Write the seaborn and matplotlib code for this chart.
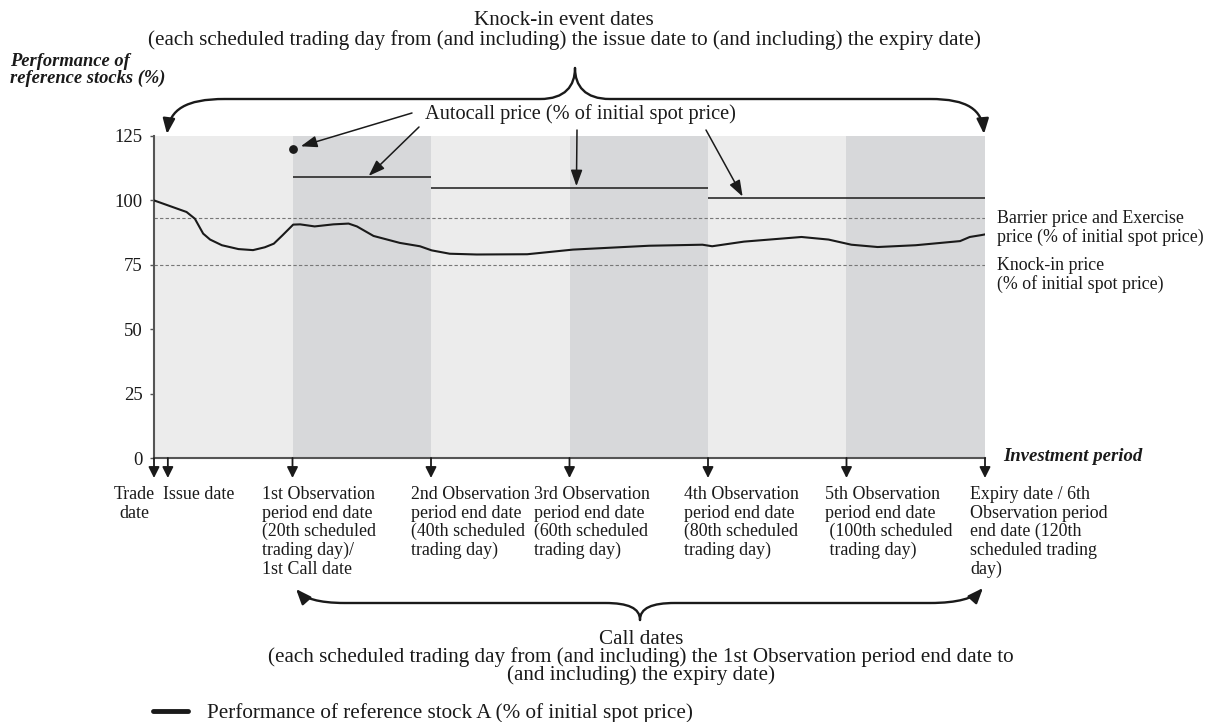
import matplotlib
matplotlib.use("Agg")
import numpy as np
import pandas as pd
import seaborn as sns
import matplotlib.pyplot as plt
from matplotlib.path import Path
from matplotlib.patches import FancyArrowPatch
from matplotlib.lines import Line2D

sns.set_theme(style="white")
plt.rcParams["font.family"] = ["Liberation Serif", "DejaVu Serif"]
plt.rcParams["text.color"] = "#1a1a1a"

# performance of reference stock A (trading day, % of spot)
days = [0, 4.7, 5.9, 7.1, 8.1, 9.8, 12.2, 14.3, 16, 17.3, 18.5, 20.1, 21.1, 23.2,
        25.9, 28.1, 29.3, 31.7, 35.5, 38.4, 40.1, 42.7, 46.6, 53.9, 60.5, 71.5,
        79.2, 80.6, 85.2, 93.5, 97.4, 100.7, 104.5, 110, 116.4, 117.8, 119.4, 120]
perf = [100, 95.5, 92.9, 87.1, 84.8, 82.6, 81.1, 80.7, 81.8, 83.2, 86.3, 90.6,
        90.7, 89.9, 90.7, 91.0, 89.9, 86.2, 83.5, 82.2, 80.6, 79.3, 79.0, 79.1,
        80.9, 82.4, 82.8, 82.2, 84.0, 85.8, 84.8, 82.8, 81.9, 82.6, 84.2, 85.8,
        86.5, 86.8]

period_ends = [20, 40, 60, 80, 100, 120]
barrier = 93
knock_in = 75

# autocall price: a dot on the 1st call date, then flat segments
autocall_dot = (20, 120)
autocall_start = [20, 40, 80]
autocall_end = [40, 80, 120]
autocall_level = [109, 105, 101]

date_days = [0, 2, 20, 40, 60, 80, 100, 120]
date_labels = [
    "Trade\ndate",
    "Issue date",
    "1st Observation\nperiod end date\n(20th scheduled\ntrading day)/\n1st Call date",
    "2nd Observation\nperiod end date\n(40th scheduled\ntrading day)",
    "3rd Observation\nperiod end date\n(60th scheduled\ntrading day)",
    "4th Observation\nperiod end date\n(80th scheduled\ntrading day)",
    "5th Observation\nperiod end date\n (100th scheduled\n trading day)",
    "Expiry date / 6th\nObservation period\nend date (120th\nscheduled trading\nday)",
]
label_dx = [-40, -5, -30, -20, -35, -24, -21, -15]

W, H = 1213, 722
INK = "#1a1a1a"
SMALL = 12.9
BIG = 15.2


def fx(x):
    return x / W


def fy(y):
    return 1 - y / H


fig = plt.figure(figsize=(W / 100, H / 100), dpi=100)
ax = fig.add_axes([fx(154), fy(458), (985 - 154) / W, (458 - 136) / H])

# shaded observation periods: light background, every second period darker
ax.axvspan(0, period_ends[-1], color="#ececec", lw=0, zorder=0)
start = 0
for i, end in enumerate(period_ends):
    if i % 2 == 1:
        ax.axvspan(start, end, color="#d7d8da", lw=0, zorder=0)
    start = end

ax.axhline(barrier, color="#777777", lw=0.8, ls=(0, (3, 2)), zorder=1)
ax.axhline(knock_in, color="#777777", lw=0.8, ls=(0, (3, 2)), zorder=1)

df = pd.DataFrame({"day": days, "perf": perf})
sns.lineplot(data=df, x="day", y="perf", ax=ax, color=INK, lw=1.5, sort=False, zorder=3)

ax.hlines(autocall_level, autocall_start, autocall_end, color=INK, lw=1.1, zorder=3)
ax.scatter([autocall_dot[0]], [autocall_dot[1]], s=28, color=INK, zorder=4, clip_on=False)

ax.set_xlim(0, 120)
ax.set_ylim(0, 125)
ax.set_xticks([])
ax.set_yticks([0, 25, 50, 75, 100, 125])
ax.set_xlabel("")
ax.set_ylabel("")
ax.tick_params(axis="y", direction="out", length=3, width=1, color="#555555",
               labelsize=13.5, pad=5, labelcolor=INK, left=True)
sns.despine(ax=ax)
for s in ["left", "bottom"]:
    ax.spines[s].set_color("#555555")
    ax.spines[s].set_linewidth(1.5)

# date arrows and labels below the axis
tip = -20 / (458 - 136)
for d, lab, dx in zip(date_days, date_labels, label_dx):
    ax.annotate("", xy=(d, tip), xycoords=("data", "axes fraction"),
                xytext=(0, 20), textcoords="offset pixels", annotation_clip=False,
                arrowprops=dict(arrowstyle="-|>,head_length=0.5,head_width=0.25",
                                mutation_scale=13, lw=1.3, color=INK,
                                shrinkA=0, shrinkB=0))
    ax.annotate(lab, xy=(d, 0), xycoords=("data", "axes fraction"),
                xytext=(dx, -28), textcoords="offset pixels", ha="left", va="top",
                multialignment="center" if d == 0 else "left",
                fontsize=SMALL, linespacing=1.12, annotation_clip=False)

# labels of the dashed levels
ax.annotate("Barrier price and Exercise\nprice (% of initial spot price)",
            xy=(120, barrier), xytext=(12, -10), textcoords="offset pixels",
            ha="left", va="center", fontsize=SMALL, linespacing=1.08, annotation_clip=False)
ax.annotate("Knock-in price\n(% of initial spot price)",
            xy=(120, knock_in), xytext=(12, -10), textcoords="offset pixels",
            ha="left", va="center", fontsize=SMALL, linespacing=1.08, annotation_clip=False)

# autocall callout
fig.text(fx(580), fy(114), "Autocall price (% of initial spot price)", ha="center",
         va="center", fontsize=14.7)
callout_from = [(412, 113), (419, 127), (577, 130), (706, 130)]
callout_to = [(21.2, 121), (31, 109.5), (61, 105.5), (85, 101.5)]
for (px, py), xy in zip(callout_from, callout_to):
    ax.annotate("", xy=xy, xytext=(fx(px), fy(py)), textcoords="figure fraction",
                annotation_clip=False,
                arrowprops=dict(arrowstyle="-|>,head_length=0.7,head_width=0.25",
                                mutation_scale=14, lw=1.1, color=INK,
                                shrinkA=0, shrinkB=0))


def brace(pts):
    verts = [(fx(x), fy(y)) for x, y in pts]
    codes = [Path.MOVETO, Path.CURVE4, Path.CURVE4, Path.CURVE4, Path.LINETO,
             Path.CURVE4, Path.CURVE4, Path.CURVE4]
    p = FancyArrowPatch(path=Path(verts, codes),
                        arrowstyle="-|>,head_length=0.7,head_width=0.28",
                        mutation_scale=13, lw=1.7, color=INK,
                        transform=fig.transFigure)
    fig.add_artist(p)


# knock-in event dates brace (top)
brace([(575, 68), (575, 86), (565, 99), (540, 99), (225, 99),
       (185, 99), (170, 110), (167, 134)])
brace([(575, 68), (575, 86), (585, 99), (610, 99), (930, 99),
       (968, 99), (982, 110), (984, 134)])
# call dates brace (bottom)
brace([(640, 620), (640, 608), (628, 603), (605, 603), (345, 603),
       (318, 603), (304, 598), (296, 589)])
brace([(640, 620), (640, 608), (652, 603), (675, 603), (930, 603),
       (958, 603), (974, 598), (983, 588)])

fig.text(fx(564), fy(11), "Knock-in event dates\n(each scheduled trading day from "
         "(and including) the issue date to (and including) the expiry date)",
         ha="center", va="top", fontsize=BIG, linespacing=1.0)
fig.text(fx(641), fy(630), "Call dates\n(each scheduled trading day from (and including) "
         "the 1st Observation period end date to\n(and including) the expiry date)",
         ha="center", va="top", fontsize=BIG, linespacing=0.88)

fig.text(fx(10), fy(53), "Performance of\nreference stocks (%)", ha="left", va="top",
         fontsize=13.3, fontweight="bold", fontstyle="italic", linespacing=1.0)
fig.text(fx(1003), fy(457), "Investment period", ha="left", va="center",
         fontsize=13.5, fontweight="bold", fontstyle="italic")

handle = Line2D([], [], color=INK, lw=3.5)
fig.legend([handle], ["Performance of reference stock A (% of initial spot price)"],
           loc="center left", bbox_to_anchor=(fx(153), fy(713)), frameon=False,
           fontsize=BIG, handlelength=1.65, handletextpad=0.9, borderpad=0,
           borderaxespad=0)

fig.savefig("out.png", dpi=100)
